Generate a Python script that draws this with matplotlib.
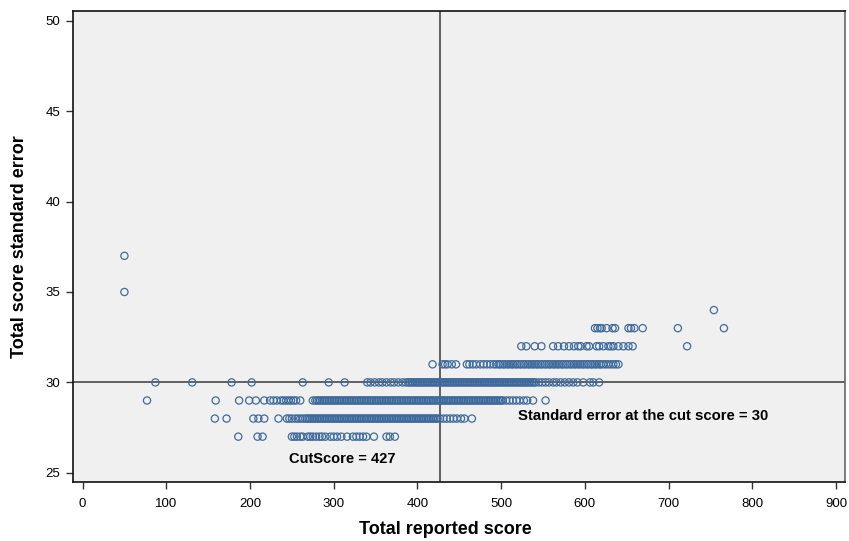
import numpy as np
import matplotlib
matplotlib.use("Agg")
import matplotlib.pyplot as plt

plt.rcParams['font.family'] = ['Liberation Sans', 'DejaVu Sans']

# reported scores observed at each standard error level
se27_scores = [186, 209, 215, 250, 253, 256, 260, 263, 269, 272, 275, 279, 283, 286, 290,
               296, 300, 304, 309, 316, 323, 327, 331, 335, 339, 348, 363, 367, 373]
se28_scores = [158, 172, 204, 210, 217, 234, 244, 247, 250, 254, 257, 260, 263,
               266, 268, 270, 272, 274, 276, 278, 280, 282, 284, 286, 288, 290, 292, 294, 296,
               298, 300, 302, 304, 306, 308, 310, 312, 314, 316, 318, 320, 322, 324, 326, 328,
               330, 332, 334, 336, 338, 340, 342, 344, 346, 348, 350, 352, 354, 356, 358, 360,
               362, 364, 366, 368, 370, 372, 374, 376, 378, 380, 382, 384, 386, 388, 390, 392,
               394, 396, 398, 400, 402, 404, 406, 408, 410, 412, 414, 416, 418, 420, 422, 424,
               427, 431, 435, 439, 443, 447, 452, 456, 465]
se29_scores = [77, 159, 187, 199, 207, 217, 224, 228, 232, 237, 240, 243, 246, 249, 252, 255,
               260, 275, 278, 280, 282, 284, 286, 288, 290, 292, 294, 296, 298, 300, 302, 304,
               306, 308, 310, 312, 314, 316, 318, 320, 322, 324, 326, 328, 330, 332, 334, 336,
               338, 340, 342, 344, 346, 348, 350, 352, 354, 356, 358, 360, 362, 364, 366, 368,
               370, 372, 374, 376, 378, 380, 382, 384, 386, 388, 390, 392, 394, 396, 398, 400,
               402, 404, 406, 408, 410, 412, 414, 416, 418, 420, 422, 424, 426, 428, 430, 432,
               434, 436, 438, 440, 442, 444, 446, 448, 450, 452, 454, 456, 458, 460, 462, 464,
               466, 468, 470, 472, 474, 476, 478, 480, 482, 484, 486, 488, 490, 492, 494, 496,
               498, 500, 502, 506, 510, 514, 518, 522, 527, 531, 538, 553]
se30_scores = [87, 131, 178, 202, 263, 294, 313, 340, 344, 349, 354, 358, 363, 368, 372, 377,
               382, 386, 389, 391, 393, 395, 397, 399, 401, 403, 405, 407, 409, 411, 413, 415,
               417, 419, 421, 423, 425, 427, 429, 431, 433, 435, 437, 439, 441, 443, 445, 447,
               449, 451, 453, 455, 457, 459, 461, 463, 465, 467, 469, 471, 473, 475, 477, 479,
               481, 483, 485, 487, 489, 491, 493, 495, 497, 499, 501, 503, 505, 507, 509, 511,
               513, 515, 517, 519, 521, 523, 525, 527, 529, 531, 533, 535, 537, 539, 541, 545,
               549, 553, 557, 562, 566, 571, 576, 581, 586, 591, 598, 606, 610, 617]
se31_scores = [418, 430, 433, 436, 441, 446, 459, 462, 466, 470, 475, 479, 483, 487, 491, 494,
               497, 499, 502, 504, 507, 509, 512, 514, 517, 519, 522, 524, 527, 529, 532, 534,
               537, 539, 542, 544, 547, 549, 552, 554, 557, 559, 562, 564, 567, 569, 572, 574,
               577, 579, 582, 584, 587, 589, 592, 594, 597, 599, 602, 604, 607, 609, 612, 614,
               617, 619, 622, 625, 628, 631, 634, 637, 640]
se32_scores = [524, 530, 540, 548, 562, 568, 575, 581, 587, 592, 595, 602, 605, 614, 617, 622,
               628, 631, 634, 640, 646, 652, 657, 722]
se33_scores = [612, 615, 618, 620, 626, 633, 636, 652, 655, 659, 669, 711, 766]
se34_scores = [754]
se35_scores = [50]
se37_scores = [50]

se_levels = [27, 28, 29, 30, 31, 32, 33, 34, 35, 37]
score_lists = [se27_scores, se28_scores, se29_scores, se30_scores, se31_scores,
               se32_scores, se33_scores, se34_scores, se35_scores, se37_scores]

cut_score = 427
cut_se = 30

fig = plt.figure(figsize=(8.49, 5.41), dpi=100)
ax = fig.add_axes([72.5 / 849, 1 - 481.5 / 541, 772 / 849, 470.5 / 541])
ax.set_facecolor('#f0f0f0')

for se, scores in zip(se_levels, score_lists):
    ax.scatter(scores, [se] * len(scores), s=27, facecolors='none',
               edgecolors='#3f6b9c', linewidths=0.9, zorder=3)

ax.axhline(cut_se, color='#3a3a3a', lw=1.1, zorder=2)
ax.axvline(cut_score, color='#3a3a3a', lw=1.1, zorder=2)

ax.text(520, 28.15, 'Standard error at the cut score = %d' % cut_se,
        fontsize=10.7, fontweight='bold', va='center', ha='left', zorder=4)
ax.text(247, 25.76, 'CutScore = %d' % cut_score,
        fontsize=10.5, fontweight='bold', va='center', ha='left', zorder=4)

ax.set_xlim(-12, 910)
ax.set_ylim(24.52, 50.54)
ax.set_xticks(np.arange(0, 901, 100))
ax.set_yticks(np.arange(25, 51, 5))
ax.tick_params(labelsize=9.5, length=5, width=1, pad=4, color='#333333')
ax.tick_params(axis='x', pad=7)

for sp in ax.spines.values():
    sp.set_color('#111111')
    sp.set_linewidth(1.2)
ax.spines['right'].set_color('#666666')

ax.set_xlabel('Total reported score', fontsize=13, fontweight='bold', va='center')
ax.set_ylabel('Total score standard error', fontsize=13, fontweight='bold', va='center')
ax.xaxis.set_label_coords((445 - 72.5) / 772, (481.5 - 530) / 470.5)
ax.yaxis.set_label_coords((20 - 72.5) / 772, 0.5)

fig.savefig('out.png', dpi=100)
